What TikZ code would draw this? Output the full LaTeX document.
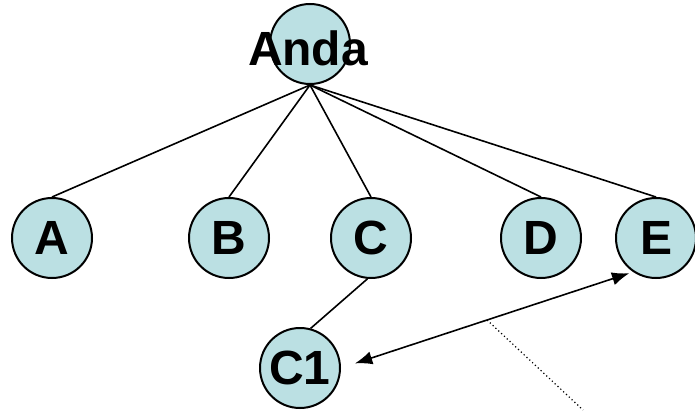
\documentclass[tikz,border=0pt]{standalone}
\usepackage{fontspec}
\setmainfont{Liberation Sans}
\usetikzlibrary{arrows.meta}
\definecolor{nodefill}{RGB}{187,224,227}
\tikzset{
  vertex/.style={circle, draw, line width=1.5pt, fill=nodefill,
    minimum size=60pt, inner sep=0pt,
    font=\fontsize{36}{42}\selectfont\bfseries},
  edge/.style={line width=1.2pt}
}
\begin{document}
\begin{tikzpicture}[x=0.75pt, y=-0.75pt]
  \useasboundingbox (0,0) rectangle (695,410);

  % root and children
  \node[vertex] (anda) at (310,44) {};
  \node[font=\fontsize{36}{42}\selectfont\bfseries, anchor=base, inner sep=0pt]
    (andatext) at (308,65) {Anda};
  \node[vertex] (a) at (52,238) {A};
  \node[vertex] (b) at (229,238) {B};
  \node[vertex] (c) at (371,238) {C};
  \node[vertex] (d) at (541,238) {D};
  \node[vertex] (e) at (656,238) {E};
  \node[vertex] (c1) at (300,368) {C1};

  \foreach \kid in {a,b,c,d,e}
    \draw[edge] (anda.south) -- (\kid.north);
  \draw[edge] (c.-95) -- (c1.75);

  \draw[edge, {Latex[length=13pt,width=10pt]}-{Latex[length=13pt,width=10pt]},
    shorten <=11pt, shorten >=3pt]
    (c1.east) -- coordinate[pos=0.5] (mid) (e.-124);
  \coordinate (tail) at (583,410);
  \draw[line width=0.9pt, dotted] (mid) -- (tail);
\end{tikzpicture}
\end{document}
